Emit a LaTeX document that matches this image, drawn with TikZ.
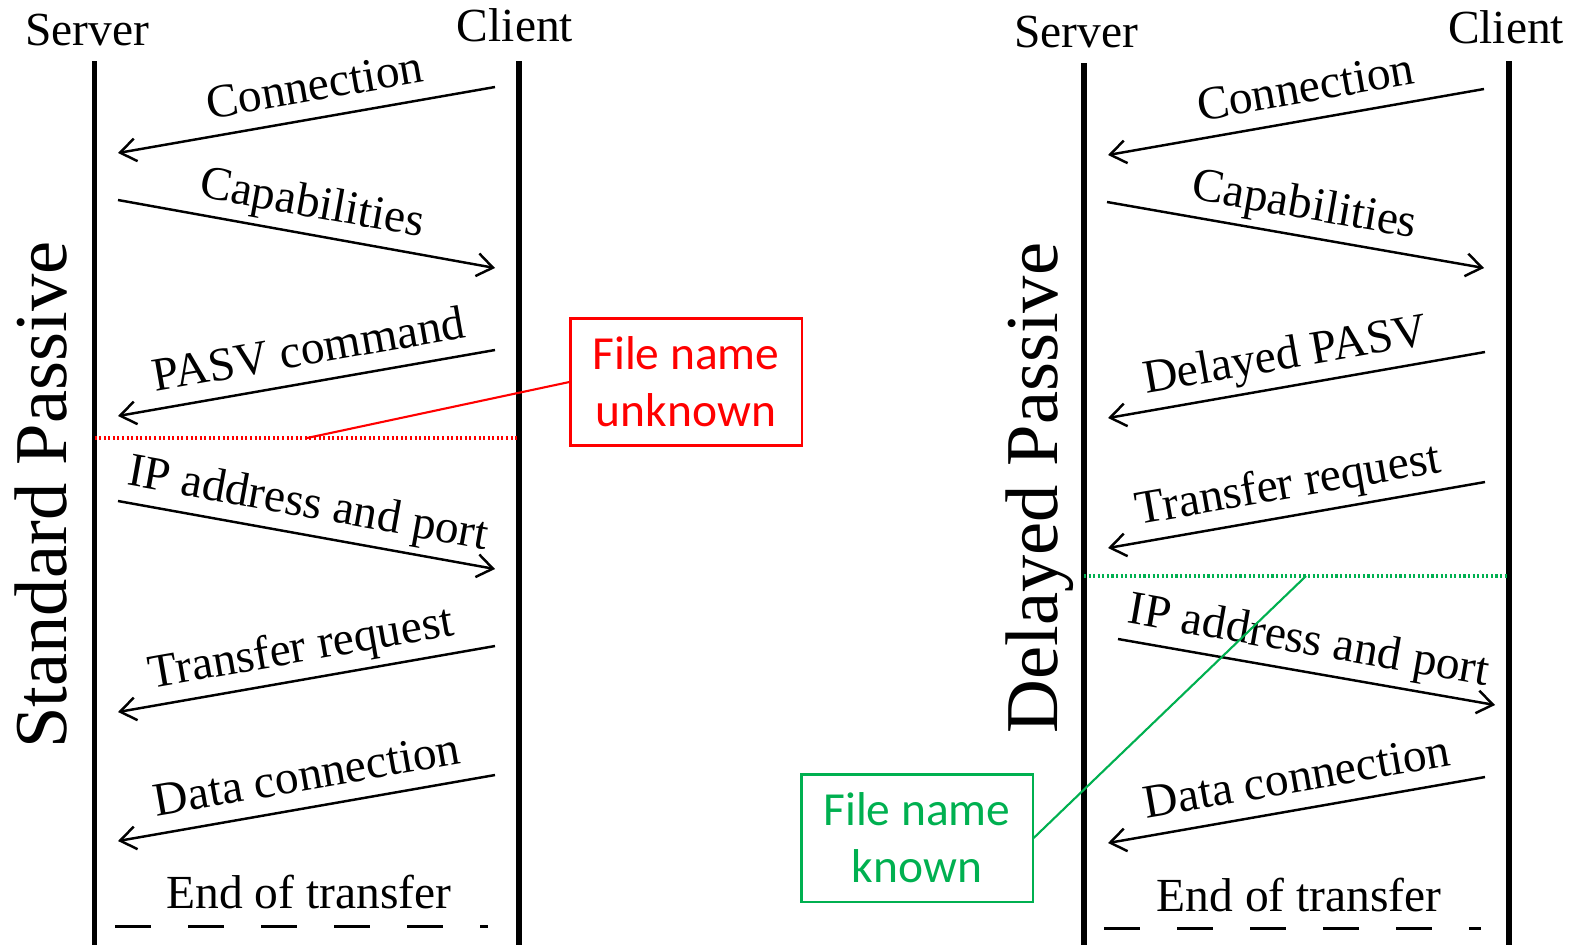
\documentclass[tikz,border=0pt]{standalone}
\usepackage{fontspec}
\setmainfont{Liberation Serif}
\newfontfamily\calloutfont{Carlito}
\usetikzlibrary{arrows.meta, positioning}

\definecolor{unkred}{RGB}{255,0,0}
\definecolor{knowngreen}{RGB}{0,176,80}

\tikzset{
  lifeline/.style={line width=1.7pt},
  msg/.style={->, line width=0.7pt},
  msgtext/.style={sloped, above, inner xsep=0pt, inner ysep=4.6pt, text depth=0pt, font=\fontsize{13.5}{16}\selectfont},
  header/.style={anchor=base, inner sep=0pt, font=\fontsize{13.5}{16}\selectfont},
  modetitle/.style={rotate=90, anchor=base, inner sep=0pt, font=\fontsize{21.2}{25}\selectfont},
  endline/.style={line width=0.85pt, dash pattern=on 0.36cm off 0.37cm},
  notebox/.style={draw, line width=0.6pt, minimum width=2.31cm, minimum height=1.27cm, align=center, font=\calloutfont\fontsize{13.5}{16.2}\selectfont},
  noteline/.style={line width=0.6pt},
  notedots/.style={line width=0.9pt, dash pattern=on 0.6pt off 0.7pt}
}

\begin{document}
\begin{tikzpicture}[x=0.01cm, y=-0.01cm, >={Straight Barb[length=4.5pt,width=6.5pt]}]
\useasboundingbox (0,0) rectangle (1577,945);

%nodes
\node[header] (srvA) at (87,45) {Server};
\node[header] (cliA) at (515,41) {Client};
\node[header] (srvB) at (1076,47) {Server};
\node[header] (cliB) at (1506,43) {Client};
\node[modetitle] (stdT) at (66.5,495) {Standard Passive};
\node[modetitle] (delT) at (1057,488) {Delayed Passive};
\node[header] (endA) at (309,908) {End of transfer};
\node[header] (endB) at (1299,911) {End of transfer};
\node[notebox, draw=unkred, text=unkred] (unk) at (686,382) {File name\\unknown};
\node[notebox, draw=knowngreen, text=knowngreen] (kn) at (917,838) {File name\\known};

%lifelines
\coordinate (sAtop) at (94.5,61);  \coordinate (sAbot) at (94.5,945);
\coordinate (cAtop) at (519,61);   \coordinate (cAbot) at (519,945);
\coordinate (sBtop) at (1084,63);  \coordinate (sBbot) at (1084,945);
\coordinate (cBtop) at (1509,61);  \coordinate (cBbot) at (1509,945);
\draw[lifeline] (sAtop) -- (sAbot);
\draw[lifeline] (cAtop) -- (cAbot);
\draw[lifeline] (sBtop) -- (sBbot);
\draw[lifeline] (cBtop) -- (cBbot);

%message ends, standard
\coordinate (a1c) at (495,87);  \coordinate (a1s) at (118,153);
\coordinate (a2s) at (118,200); \coordinate (a2c) at (495,268);
\coordinate (a3c) at (495,350); \coordinate (a3s) at (118,416);
\coordinate (a4s) at (118,501); \coordinate (a4c) at (495,569);
\coordinate (a5c) at (495,646); \coordinate (a5s) at (118,712);
\coordinate (a6c) at (495,775); \coordinate (a6s) at (118,841);
\coordinate (eAl) at (115,926.5); \coordinate (eAr) at (488,926.5);

%message ends, delayed
\coordinate (b1c) at (1484,89);  \coordinate (b1s) at (1108,155);
\coordinate (b2s) at (1107,202); \coordinate (b2c) at (1484,268);
\coordinate (b3c) at (1485,352); \coordinate (b3s) at (1108,418);
\coordinate (b4c) at (1485,482); \coordinate (b4s) at (1108,548);
\coordinate (b5s) at (1118,639); \coordinate (b5c) at (1495,705);
\coordinate (b6c) at (1485,777); \coordinate (b6s) at (1108,843);
\coordinate (eBl) at (1104,928.5); \coordinate (eBr) at (1481,928.5);

%connections
\draw[msg] (a1c) -- node[msgtext, pos=0.463]{Connection} (a1s);
\draw[msg] (a2s) -- node[msgtext]{Capabilities} (a2c);
\draw[msg] (a3c) -- node[msgtext, pos=0.479]{PASV command} (a3s);
\draw[msg] (a4s) -- node[msgtext, pos=0.49]{IP address and port} (a4c);
\draw[msg] (a5c) -- node[msgtext]{Transfer request} (a5s);
\draw[msg] (a6c) -- node[msgtext, pos=0.484]{Data connection} (a6s);
\draw[endline] (eAl) -- (eAr);

\draw[msg] (b1c) -- node[msgtext, pos=0.46]{Connection} (b1s);
\draw[msg] (b2s) -- node[msgtext, pos=0.51]{Capabilities} (b2c);
\draw[msg] (b3c) -- node[msgtext, pos=0.516]{Delayed PASV} (b3s);
\draw[msg] (b4c) -- node[msgtext, pos=0.508]{Transfer request} (b4s);
\draw[msg] (b5s) -- node[msgtext, pos=0.492]{IP address and port} (b5c);
\draw[msg] (b6c) -- node[msgtext, pos=0.484]{Data connection} (b6s);
\draw[endline] (eBl) -- (eBr);

%file name markers
\coordinate (rdL) at (94.5,438); \coordinate (rdR) at (519,438); \coordinate (rdP) at (307,438);
\draw[notedots, unkred] (rdL) -- (rdR);
\draw[noteline, unkred] (rdP) -- (unk.west);
\coordinate (gdL) at (1084,576); \coordinate (gdR) at (1509,576); \coordinate (gdP) at (1306,576);
\draw[notedots, knowngreen] (gdL) -- (gdR);
\draw[noteline, knowngreen] (gdP) -- (kn.east);
\end{tikzpicture}
\end{document}
